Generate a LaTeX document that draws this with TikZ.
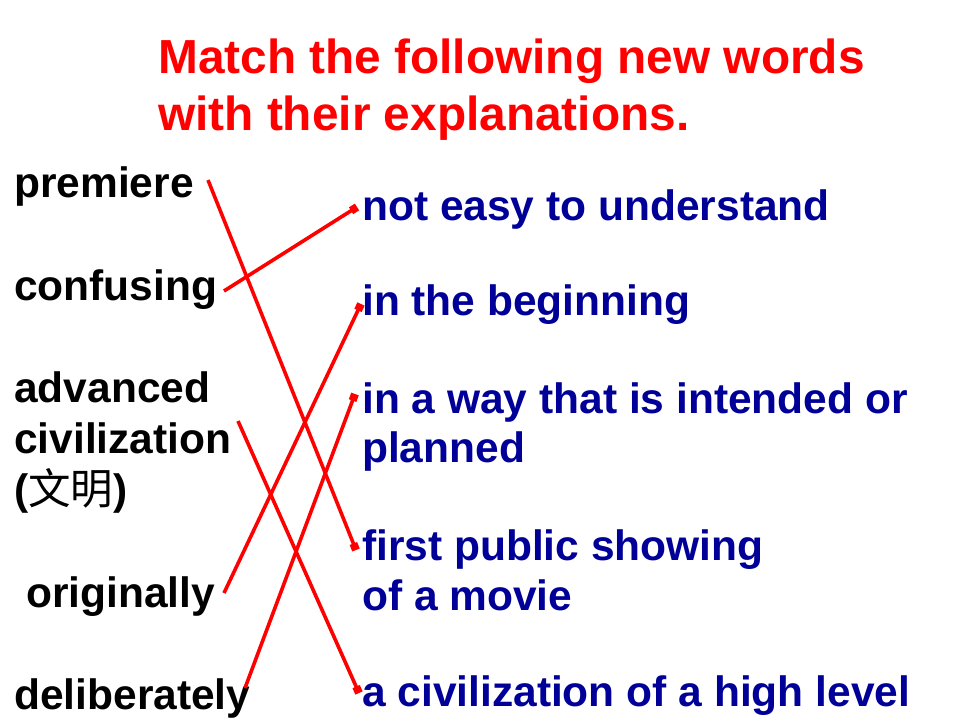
\documentclass[tikz,border=0pt]{standalone}
\usepackage{fontspec}
\setmainfont{Liberation Sans}
\newfontfamily\cjk{Noto Sans CJK SC}
\usetikzlibrary{arrows.meta}
\definecolor{titlered}{RGB}{255,0,0}
\definecolor{navy}{RGB}{0,0,153}
\begin{document}
\begin{tikzpicture}[x=1pt,y=-1pt,
  title/.style={anchor=base west,inner sep=0pt,text=titlered,font=\fontsize{47.8}{58}\selectfont\bfseries},
  word/.style={anchor=base west,inner sep=0pt,text=black,font=\fontsize{42.5}{51}\selectfont\bfseries},
  expl/.style={anchor=base west,inner sep=0pt,text=navy,font=\fontsize{42.5}{51}\selectfont\bfseries},
  link/.style={draw=red,line width=3.6pt,-{Square[length=7pt,width=8pt]}}]
\useasboundingbox (0,0) rectangle (960,720);
\fill[white] (0,0) rectangle (960,720);
% title
\node[title] (t1) at (158,73) {Match the following new words};
\node[title] (t2) at (158,130) {with their explanations.};
% words
\node[word] (w1) at (14,197) {premiere};
\node[word] (w2) at (14,300) {confusing};
\node[word] (w3a) at (14,402) {advanced};
\node[word] (w3b) at (14,453) {civilization};
\node[word] (w3c) at (14,504) {({\cjk\mdseries 文明})};
\node[word] (w4) at (26,607) {originally};
\node[word] (w5) at (14,709) {deliberately};
% explanations
\node[expl] (e1) at (362,220) {not easy to understand};
\node[expl] (e2) at (362,315) {in the beginning};
\node[expl] (e3a) at (362,413) {in a way that is intended or};
\node[expl] (e3b) at (362,462) {planned};
\node[expl] (e4a) at (362,560) {first public showing};
\node[expl] (e4b) at (362,610) {of a movie};
\node[expl] (e5) at (362,706) {a civilization of a high level};
% connector ends
\coordinate (s1) at (208,180);
\coordinate (s2) at (224,291);
\coordinate (s3) at (238,421);
\coordinate (s4) at (224,593);
\coordinate (s5) at (245,688);
\coordinate (d1) at (357,207);
\coordinate (d2) at (361,304);
\coordinate (d3) at (355,394);
\coordinate (d4) at (356,550);
\coordinate (d5) at (359,693);
\draw[link] (s1) -- (d4);
\draw[link] (s2) -- (d1);
\draw[link] (s3) -- (d5);
\draw[link] (s4) -- (d2);
\draw[link] (s5) -- (d3);
\end{tikzpicture}
\end{document}
